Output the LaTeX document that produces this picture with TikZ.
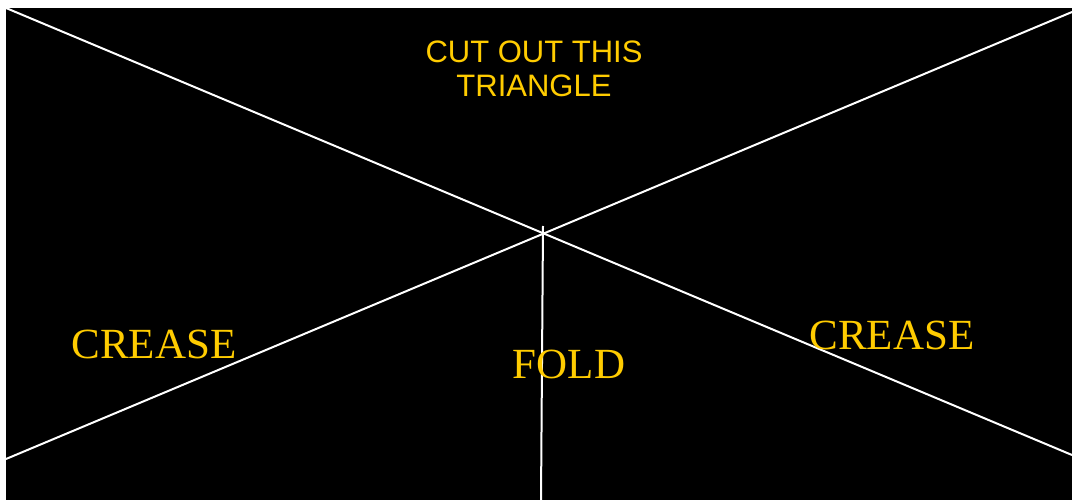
\documentclass[tikz,border=0pt]{standalone}
\usepackage{fontspec}
\setmainfont{Liberation Serif}
\newfontfamily\arialfont{Liberation Sans}
\definecolor{gold}{HTML}{FFCC00}
\tikzset{
  foldline/.style={draw=white, line width=2pt},
  serifleg/.style={text=gold, inner sep=0pt, anchor=base, font=\fontsize{43}{48}\selectfont},
  sansleg/.style={text=gold, inner sep=0pt, anchor=base, align=center, font=\arialfont\fontsize{31}{34.5}\selectfont},
}
\begin{document}
\begin{tikzpicture}[x=1pt,y=-1pt]
\useasboundingbox (0,0) rectangle (1072,500);
\fill[white] (0,0) rectangle (1072,500);
\fill[black] (6,8) rectangle (1072,500);
\coordinate (tl) at (6,8);
\coordinate (br) at (1072,455);
\coordinate (bl) at (6,459);
\coordinate (tr) at (1072,12);
\coordinate (ftop) at (543,226);
\coordinate (fbot) at (541,500);
\draw[foldline] (tl) -- (br);
\draw[foldline] (bl) -- (tr);
\draw[foldline] (ftop) -- (fbot);
\node[sansleg] (cut) at (534,97) {CUT OUT THIS\\TRIANGLE};
\node[serifleg] (creaseL) at (154,358) {CREASE};
\node[serifleg] (creaseR) at (892,349) {CREASE};
\node[serifleg] (fold) at (569,378) {FOLD};
\end{tikzpicture}
\end{document}
